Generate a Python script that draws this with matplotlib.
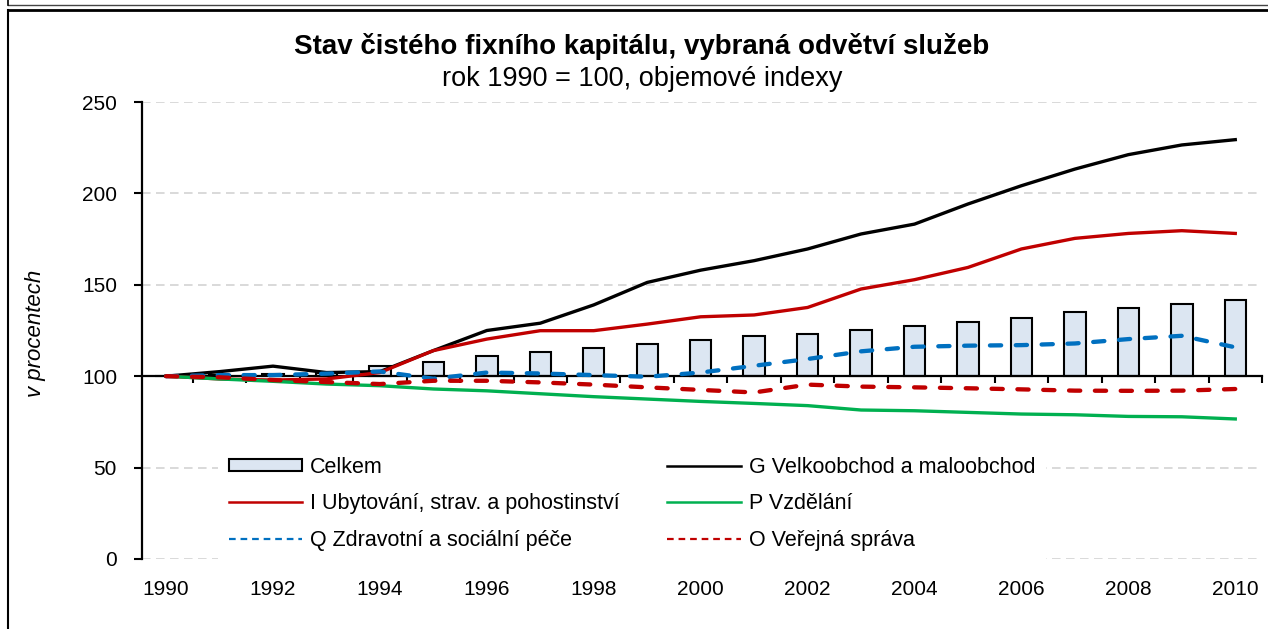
import numpy as np
import matplotlib.pyplot as plt
from matplotlib.lines import Line2D
from matplotlib.patches import Patch

plt.rcParams['font.family'] = ['Liberation Sans', 'DejaVu Sans']

# index values, 1990 = 100
years = list(range(1990, 2011))
celkem = [100, 100.5, 101, 102, 105.7, 107.9, 111, 113, 115.4, 117.6, 119.8,
          122.2, 123.1, 125.3, 127.3, 129.8, 131.8, 135.3, 137.3, 139.5, 141.7]
velkoobchod = [100, 102.5, 105.5, 102, 102.5, 114, 125, 129, 139, 151.3, 158,
               163.2, 169.6, 177.8, 183.2, 194.2, 204.2, 213.3, 221.2, 226.5, 229.4]
ubytovani = [100, 98.5, 97.9, 98.5, 102, 114, 120.3, 124.9, 124.9, 128.5, 132.5,
             133.5, 137.6, 147.7, 152.8, 159.5, 169.6, 175.4, 178.1, 179.6, 178.1]
vzdelani = [100, 98.5, 97.2, 95.7, 94.8, 93, 92, 90.4, 88.8, 87.5, 86.2,
            85.1, 83.9, 81.5, 81.1, 80.2, 79.3, 78.9, 78, 77.8, 76.6]
zdravotni = [100, 100.6, 100.6, 101.4, 102.6, 98.6, 102, 101.5, 100.6, 99.7, 102,
             105.7, 109.4, 113.6, 116.1, 116.7, 117, 117.9, 120.3, 122.1, 115.8]
sprava = [100, 99.4, 97.9, 96.8, 95.7, 97.5, 97.5, 96.6, 95.4, 93.9, 92.5,
          91.1, 95.4, 94.3, 93.9, 93.4, 92.8, 92.1, 92, 92.1, 93]

title = 'Stav čistého fixního kapitálu, vybraná odvětví služeb'
subtitle = 'rok 1990 = 100, objemové indexy'
labels = ['Celkem', 'I Ubytování, strav. a pohostinství', 'Q Zdravotní a sociální péče',
          'G Velkoobchod a maloobchod', 'P Vzdělání', 'O Veřejná správa']

RED = '#C00000'
BLUE = '#0070C0'
GREEN = '#00B050'
BAR = '#DCE6F2'

W, H = 1268, 629
fig = plt.figure(figsize=(W / 100, H / 100), dpi=100)
ax = fig.add_axes([142 / W, 1 - 559 / H, (1262 - 142) / W, (559 - 102) / H])

x = np.arange(len(years))
base = 100

ax.bar(x, np.array(celkem) - base, bottom=base, width=0.4, color=BAR,
       edgecolor='black', linewidth=1.5, zorder=2)
ax.plot(x, velkoobchod, color='black', lw=2.4, zorder=4)
ax.plot(x, ubytovani, color=RED, lw=2.4, zorder=4)
ax.plot(x, vzdelani, color=GREEN, lw=2.4, zorder=4)
ax.plot(x, zdravotni, color=BLUE, lw=3.1, dashes=(2.6, 3.4),
        dash_capstyle='round', zorder=5)
ax.plot(x, sprava, color=RED, lw=3.1, dashes=(2.6, 3.4),
        dash_capstyle='round', zorder=5)

ax.set_xlim(-0.45, 20.5)
ax.set_ylim(0, 250)

# x axis crosses at 100, ticks between categories
for s in ['top', 'right']:
    ax.spines[s].set_visible(False)
ax.spines['bottom'].set_position(('data', base))
ax.spines['bottom'].set_linewidth(1.6)
ax.spines['left'].set_linewidth(1.6)
ax.spines['bottom'].set_zorder(3)
ax.set_xticks(np.arange(0.5, 21, 1))
ax.tick_params(axis='x', length=5, width=1.5, labelbottom=False)
ax.set_yticks(range(0, 251, 50))
ax.tick_params(axis='y', length=6, width=1.5, pad=12, labelsize=15)
ax.yaxis.grid(True, color='#D9D9D9', linestyle=(0, (4.4, 2.8)), linewidth=1.4)
ax.set_axisbelow(True)

# year labels along the bottom edge
sec = ax.secondary_xaxis(0)
sec.set_xticks(x[::2], labels=[str(y) for y in years[::2]])
sec.tick_params(length=0, pad=15, labelsize=15)
sec.spines['bottom'].set_visible(False)

handles = [
    Patch(facecolor=BAR, edgecolor='black', linewidth=1.5),
    Line2D([], [], color=RED, lw=1.8),
    Line2D([], [], color=BLUE, lw=1.6, dashes=(3, 2.2)),
    Line2D([], [], color='black', lw=1.8),
    Line2D([], [], color=GREEN, lw=1.8),
    Line2D([], [], color=RED, lw=1.6, dashes=(3, 2.2)),
]
leg = ax.legend(handles, labels, ncols=2, loc='upper left',
                bbox_to_anchor=(207 / W, 1 - 435 / H), bbox_transform=fig.transFigure,
                fontsize=15.5, frameon=True, fancybox=False, edgecolor='none',
                facecolor='white', framealpha=1, handlelength=3.4, handletextpad=0.4,
                columnspacing=2.2, labelspacing=0.72, borderpad=0.5, handleheight=0.5)
leg.set_zorder(6)

fig.text(642 / W, 1 - 47 / H, title, ha='center', va='center', fontsize=20, fontweight='bold')
fig.text(642 / W, 1 - 79 / H, subtitle, ha='center', va='center', fontsize=19.5)
fig.text(35 / W, 1 - 333 / H, 'v procentech', rotation=90, style='italic',
         ha='center', va='center', fontsize=16)

# chart frame
fig.add_artist(Line2D([8 / W, 8 / W], [1 - 10 / H, 0], transform=fig.transFigure,
                      color='black', lw=1.5))
fig.add_artist(Line2D([8 / W, 1], [1 - 10 / H, 1 - 10 / H], transform=fig.transFigure,
                      color='black', lw=2))
fig.add_artist(Line2D([8 / W, 1], [1 - 5 / H, 1 - 5 / H], transform=fig.transFigure,
                      color='#444444', lw=1))
fig.add_artist(Line2D([8 / W, 8 / W], [1, 1 - 5 / H], transform=fig.transFigure,
                      color='black', lw=1.2))

fig.savefig('out.png', dpi=100)
